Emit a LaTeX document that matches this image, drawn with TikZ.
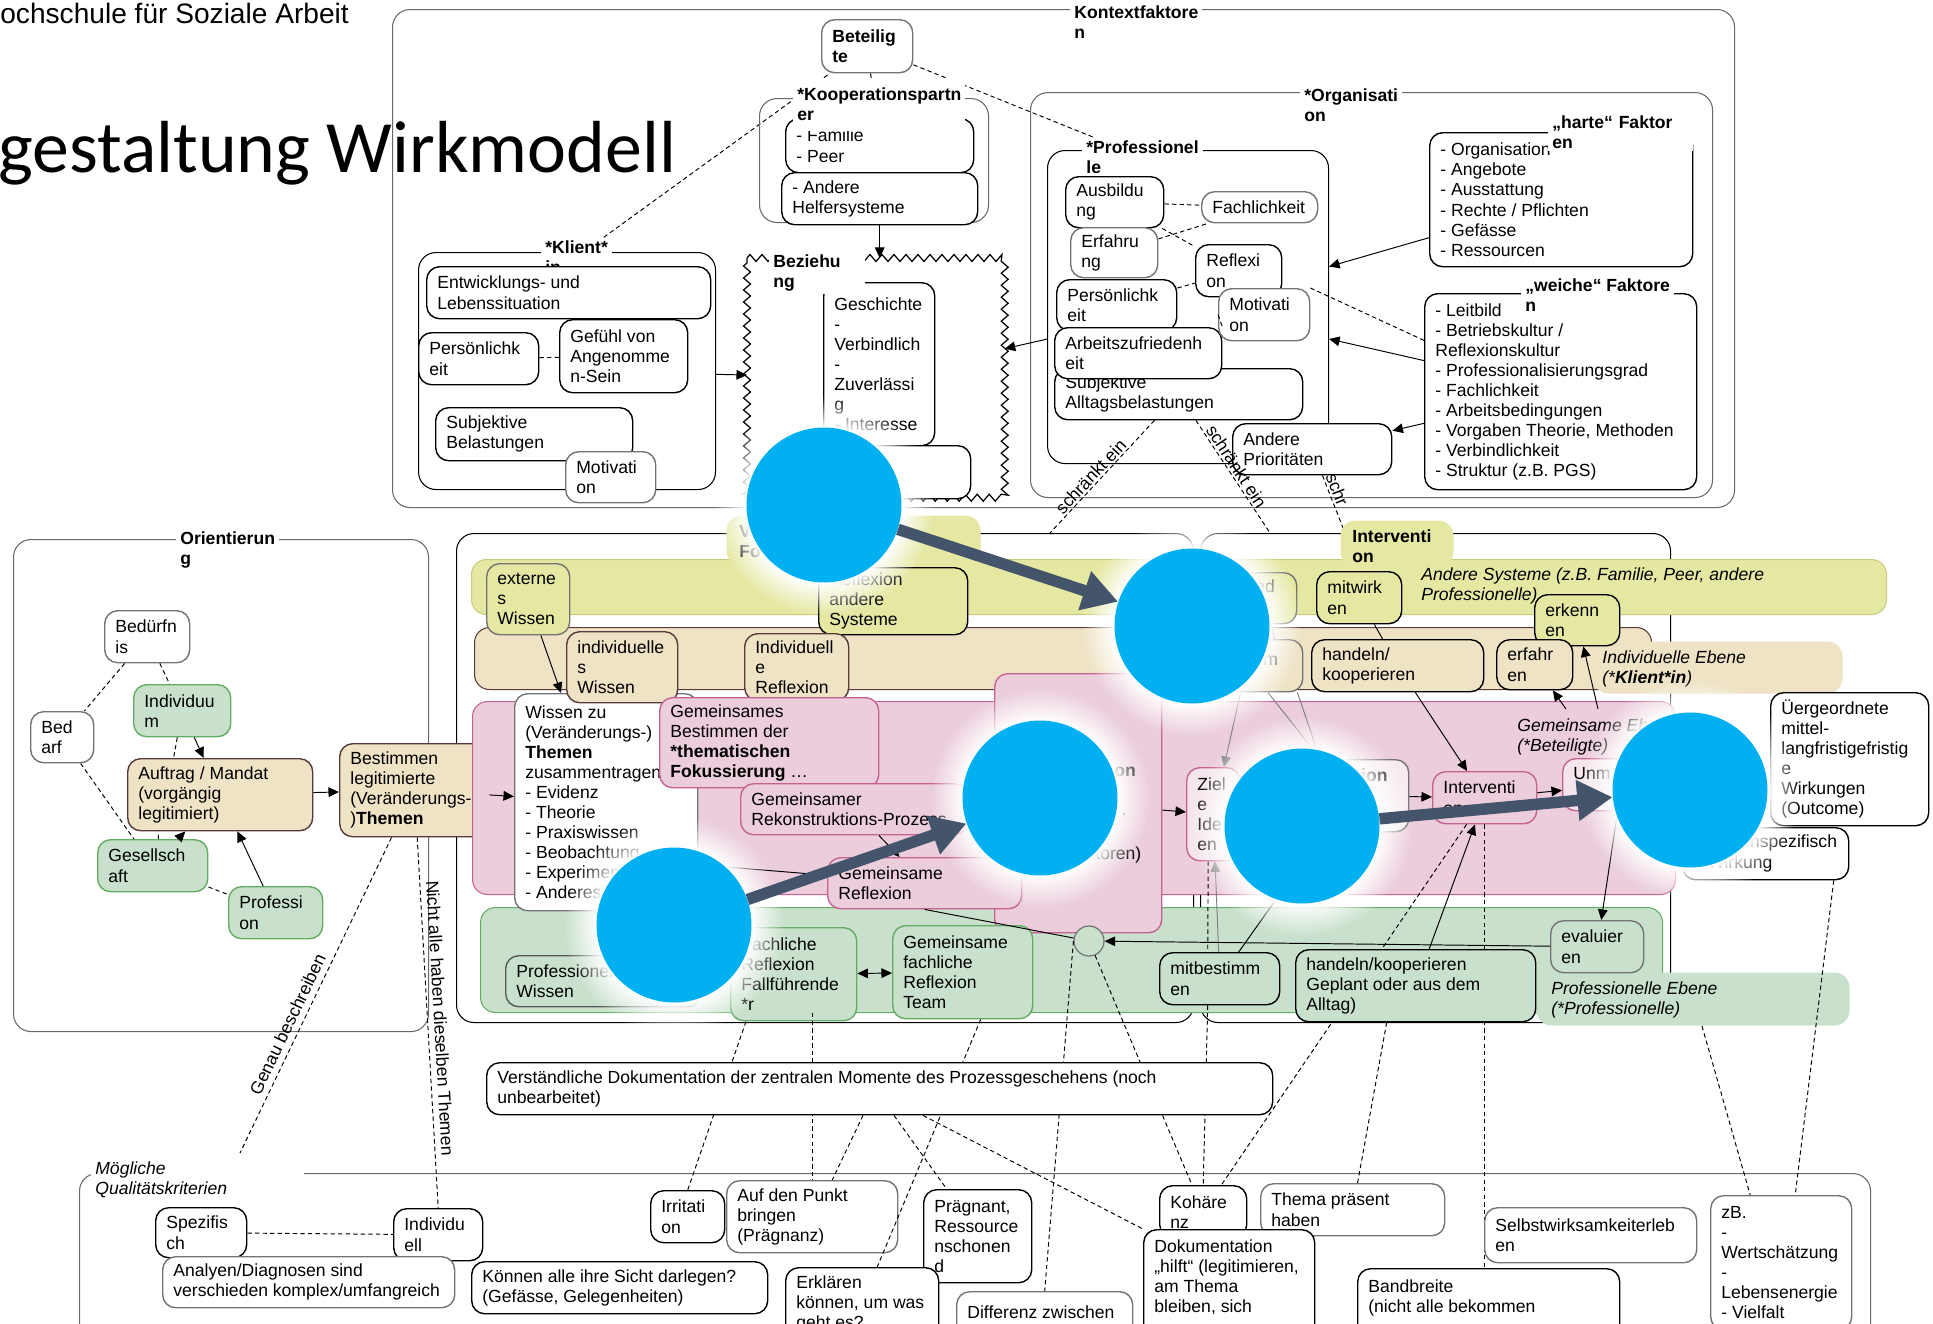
\documentclass[tikz,border=0pt]{standalone}
\usepackage{fontspec}
\setmainfont{Liberation Sans}
\newfontfamily\carlito{Carlito}
\usetikzlibrary{arrows.meta}
\usetikzlibrary{calc}
\usetikzlibrary{fadings}
\usetikzlibrary{decorations.pathmorphing}
\definecolor{ygfill}{RGB}{229,232,162}
\definecolor{ygline}{RGB}{200,204,120}
\definecolor{tanfill}{RGB}{239,227,197}
\definecolor{tanline}{RGB}{88,58,58}
\definecolor{rosefill}{RGB}{235,205,220}
\definecolor{roseline}{RGB}{198,98,146}
\definecolor{sagefill}{RGB}{201,225,204}
\definecolor{sageline}{RGB}{100,172,100}
\definecolor{blobblue}{RGB}{0,176,240}
\definecolor{slate}{RGB}{68,84,106}
\definecolor{framegray}{RGB}{105,105,105}
\newcommand\lbl{\fontsize{10}{11.4}\selectfont}
\pgfdeclareradialshading{glowshade}{\pgfpointorigin}{color(0bp)=(white); color(17.5bp)=(white); color(20bp)=(black!35); color(25bp)=(black); color(50bp)=(black)}
\pgfdeclarefading{glowfade}{\pgfuseshading{glowshade}}

\begin{document}
\begin{tikzpicture}[x=0.02cm,y=-0.02cm,
  every node/.style={font=\lbl},
  bx/.style 2 args={minimum width=#1*0.02cm, minimum height=#2*0.02cm},
  txt/.style={label={[anchor=west, align=left, inner xsep=0.22cm, inner ysep=0pt]west:{#1}}},
  wbox/.style={draw=black, fill=white, rounded corners=0.26cm, line width=0.8pt, inner sep=0pt, anchor=north west},
  gbox/.style={wbox, draw=black!55},
  ybox/.style={wbox, fill=ygfill},
  tbox/.style={wbox, fill=tanfill},
  pbox/.style={wbox, fill=rosefill, draw=roseline},
  sbox/.style={wbox, fill=sagefill, draw=sageline},
  outerbox/.style={draw=framegray, rounded corners=0.35cm, line width=0.6pt, inner sep=0pt, anchor=north west},
  band/.style={rounded corners=0.3cm, line width=0.6pt, inner sep=0pt, anchor=north west},
  ttl/.style={fill=white, font=\lbl\bfseries, align=left, inner xsep=0.08cm, inner ysep=0.06cm, anchor=west},
  note/.style={font=\lbl\itshape, align=left, inner sep=0pt, anchor=west},
  frag/.style={inner sep=0pt, anchor=west},
  arr/.style={-{Triangle[length=6pt,width=5.5pt]}, line width=0.55pt},
  arr2/.style={{Triangle[length=6pt,width=5.5pt]}-{Triangle[length=6pt,width=5.5pt]}, line width=0.55pt},
  garr/.style={arr, draw=black!50},
  dline/.style={line width=0.55pt, dash pattern=on 2.5pt off 1.8pt},
  zz/.style={decorate, decoration={zigzag, segment length=0.24cm, amplitude=0.07cm}, line width=0.7pt},
  blob/.style={circle, fill=blobblue, minimum size=3.1cm, inner sep=0pt},
  bigarr/.style={-{Triangle[length=20pt,width=22pt]}, line width=6.5pt, draw=slate}]

\useasboundingbox (0,0) rectangle (1933,1323);

\node[anchor=base west, inner sep=0pt, font=\fontsize{16}{18}\selectfont] (hsname) at (0,23) {ochschule für Soziale Arbeit};
\node[anchor=base west, inner sep=0pt, font=\carlito\fontsize{42}{48}\selectfont] (wmtitle) at (-2,172) {gestaltung Wirkmodell};

% Kontextfaktoren
\node[outerbox, bx={1342}{498}] (kontext) at (392,9) {};
\node[ttl] (kontextttl) at (1070,22) {Kontextfaktore\\n};

\node[outerbox, draw=black, bx={297}{237}] (klient) at (418,252) {};
\node[ttl] (klientttl) at (541,257) {*Klient*\\in};
\node[wbox, bx={284}{52}, txt={Entwicklungs- und\\Lebenssituation}] (kentw) at (426,266) {};
\node[wbox, bx={120}{52}, txt={Persönlichk\\eit}] (kpers) at (418,332) {};
\node[wbox, bx={128}{73}, txt={Gefühl von\\Angenomme\\n-Sein}] (kgef) at (559,319) {};
\node[wbox, bx={197}{53}, txt={Subjektive\\Belastungen}] (kbel) at (435,407) {};
\node[gbox, bx={90}{51}, txt={Motivati\\on}] (kmot) at (565,451) {};
\draw[dline] (kpers) -- (kgef);

\node[outerbox, bx={682}{405}] (orga) at (1030,92) {};
\node[ttl] (orgattl) at (1300,105) {*Organisati\\on};
\node[outerbox, draw=black, bx={281}{313}] (prof) at (1047,150) {};
\node[ttl] (profttl) at (1082,157) {*Professionel\\le};

\node[gbox, bx={91}{53}, txt={\textbf{Beteilig}\\\textbf{te}}] (beteiligte) at (821,19) {};
\draw[dline] (klientttl) -- (beteiligte);
\draw[dline] (beteiligte) -- (profttl);
\node[outerbox, bx={229}{124}] (koop) at (759,98) {};
\node[wbox, bx={188}{54}, txt={- Familie\\- Peer}] (koopfam) at (785,118) {};
\node[wbox, bx={196}{52}, txt={- Andere\\Helfersysteme}] (koopand) at (781,172) {};
\draw[line width=0.55pt] (beteiligte) -- (koopfam);
\node[ttl, inner ysep=0.2cm] (koopttl) at (793,104.5) {*Kooperationspartn\\er};

\node[fill=white, inner sep=0pt, anchor=north west, bx={257}{239}] (beziehung) at (747,258) {};
\draw[zz] (beziehung.north west) -- (beziehung.north east) -- (beziehung.south east) -- (beziehung.south west) -- cycle;
\node[wbox, bx={111}{163}, txt={Geschichte\\-\\Verbindlich\\-\\Zuverlässi\\g\\- Interesse}] (bgesch) at (823,282) {};
\node[wbox, bx={153}{53}] (bunten) at (817,445) {};
\node[ttl, text width=1.75cm] (bezttl) at (769,272.5) {Beziehu\\ng};
\draw[arr] (koopand) -- (koopand |- beziehung.north);
\draw[arr] (klient) -- (beziehung);

\node[wbox, bx={98}{51}, txt={Ausbildu\\ng}] (prausb) at (1065,176) {};
\node[gbox, bx={116}{31}, txt={Fachlichkeit}] (prfach) at (1201,191) {};
\node[gbox, bx={87}{50}, txt={Erfahru\\ng}] (prerf) at (1070,227) {};
\node[wbox, bx={120}{51}, txt={Persönlichk\\eit}] (prpers) at (1056,279) {};
\node[wbox, bx={248}{51}, txt={Subjektive\\Alltagsbelastungen}] (prsub) at (1054,368) {};
\node[wbox, bx={167}{51}, txt={Arbeitszufriedenh\\eit}] (prarb) at (1054,327) {};
\node[wbox, bx={86}{52}, txt={Reflexi\\on}] (prrefl) at (1195,244) {};
\node[gbox, bx={91}{52}, txt={Motivati\\on}] (prmot) at (1218,288) {};
\node[wbox, bx={159}{51}, txt={Andere\\Prioritäten}] (prand) at (1232,423) {};
\draw[dline] (prausb) -- (prfach);
\draw[dline] (prerf) -- (prfach);
\draw[dline] (prausb) -- (prrefl);
\draw[dline] (prpers) -- (prrefl);
\draw[dline] (prmot.west) -- (prarb.north east);

\node[wbox, bx={263}{134}, txt={- Organisation\\- Angebote\\- Ausstattung\\- Rechte / Pflichten\\- Gefässe\\- Ressourcen}] (harte) at (1429,132) {};
\node[ttl, text width=2.74cm] (hartettl) at (1548,132) {„harte“ Faktor\\en};
\node[wbox, bx={272}{196}, txt={- Leitbild\\- Betriebskultur /\\Reflexionskultur\\- Professionalisierungsgrad\\- Fachlichkeit\\- Arbeitsbedingungen\\- Vorgaben Theorie, Methoden\\- Verbindlichkeit\\- Struktur (z.B. PGS)}] (weiche) at (1424,293) {};
\node[ttl] (weichettl) at (1521,295) {„weiche“ Faktore\\n};
\draw[arr] (harte) -- (prof);
\draw[arr] (weiche) -- (prof);
\draw[arr] (weiche) -- (prand);
\draw[arr] (prof) -- (beziehung);
\draw[dline] (prmot.north east) -- ($(weiche.north west)!0.24!(weiche.south west)$);

% Intervention
\node[outerbox, draw=black, bx={737}{489}] (intleft) at (456,533) {};
\node[outerbox, draw=black, bx={470}{489}] (intright) at (1200,533) {};
\coordinate (cse1) at (1050,533);
\coordinate (cse2) at (1270,533);
\coordinate (cse3) at (1345,533);
\draw[dline] (prsub) -- node[sloped, above, pos=0.55, inner sep=1pt] {schränkt ein} (cse1);
\draw[dline] (prsub) -- node[sloped, above, pos=0.45, inner sep=1pt] {schränkt ein} (cse2);
\draw[dline] (prand) -- node[sloped, above, pos=0.3, inner sep=1pt] {schr} (cse3);

% Orientierung
\node[outerbox, bx={415}{492}] (orient) at (13,539) {};
\node[ttl] (orientttl) at (176,549.5) {Orientierun\\g};
\node[gbox, bx={85}{52}, txt={Bedürfn\\is}] (obed) at (104,610) {};
\node[gbox, bx={63}{51}, txt={Bed\\arf}] (obedarf) at (30,711) {};
\node[sbox, bx={97}{52}, txt={Individuu\\m}] (oind) at (133,684) {};
\node[tbox, draw=tanline, bx={185}{72}, txt={Auftrag / Mandat\\(vorgängig\\legitimiert)}] (oauf) at (127,758) {};
\node[sbox, bx={110}{52}, txt={Gesellsch\\aft}] (oges) at (97,839) {};
\node[sbox, bx={94}{52}, txt={Professi\\on}] (oprof) at (228,886) {};
\node[tbox, draw=tanline, bx={149}{93}, txt={Bestimmen\\legitimierte\\(Veränderungs-\\)\textbf{Themen}}] (obest) at (339,743) {};
\draw[dline] (obed) -- (obedarf);
\draw[dline] (obed) -- (oind);
\draw[dline] ($(oind.south west)!0.45!(oind.south east)$) -- ($(oauf.north west)!0.25!(oauf.north east)$);
\draw[arr] (oind) -- (oauf);
\draw[dline] (obedarf) -- (oges);
\draw[dline] ($(oges.north west)!0.55!(oges.north east)$) -- ($(oauf.south west)!0.17!(oauf.south east)$);
\draw[arr] (oges) -- (oauf);
\draw[dline] (oges) -- (oprof);
\draw[arr] (oprof) -- (oauf);
\draw[arr] (oauf) -- (obest);

% Ebenen
\node[band, fill=ygfill, draw=ygline, bx={1415}{55}] (yband) at (471,559) {};
\node[band, fill=ygfill, bx={254}{50}] (vtab) at (726,515) {};
\node[frag, font=\lbl\bfseries, align=left] (vtabtxt) at (739,541.5) {V\\Fo};
\node[band, fill=ygfill, bx={113}{46}] (itab) at (1340,520) {};
\node[ttl, fill=none] (itabtxt) at (1348,546.5) {Interventi\\on};
\node[band, fill=tanfill, draw=tanline, bx={1177}{62}] (tband) at (474,627) {};
\node[band, fill=tanfill, bx={249}{52}] (ttab) at (1593,641) {};
\node[note] (ttabtxt) at (1602,668.5) {Individuelle Ebene\\(*\textbf{Klient*in})};
\node[band, fill=rosefill, draw=roseline, bx={1203}{193}] (pband) at (472,701) {};
\node[band, fill=sagefill, draw=sageline, bx={1182}{105}] (gband) at (480,907) {};
\node[band, fill=sagefill, bx={313}{53}] (gtab) at (1536,972) {};
\node[note] (gtabtxt) at (1551,999.5) {Professionelle Ebene\\(*Professionelle)};
\node[note] (ysystxt) at (1421,586) {Andere Systeme (z.B. Familie, Peer, andere\\Professionelle)};
\node[note] (gemtxt) at (1517,736.5) {Gemeinsame Ebene\\(*Beteiligte)};

\node[ybox, draw=black!55, bx={83}{71}, txt={externe\\s\\Wissen}] (yext) at (486,563) {};
\node[ybox, bx={149}{67}, txt={Reflexion\\andere\\Systeme}] (yrefl) at (818,567) {};
\node[ybox, draw=black!55, bx={116}{51}] (yed) at (1180,572) {};
\node[frag] (yedtxt) at (1255,586) {ed};
\node[ybox, bx={85}{52}, txt={mitwirk\\en}] (ymit) at (1316,571) {};
\node[ybox, bx={85}{51}, txt={erkenn\\en}] (yerk) at (1534,594) {};

\node[wbox, draw=black!55, bx={183}{217}, txt={Wissen zu\\(Veränderungs-)\\\textbf{Themen}\\zusammentragen\\- Evidenz\\- Theorie\\- Praxiswissen\\- Beobachtung\\- Experimente\\- Anderes}] (wissen) at (514,693) {};
\node[tbox, draw=tanline, bx={111}{71}, txt={individuelle\\s\\Wissen}] (tind) at (566,631) {};
\node[tbox, draw=tanline, bx={104}{67}, txt={Individuell\\e\\Reflexion}] (trefl) at (744,633) {};
\node[tbox, draw=black!55, bx={112}{52}] (tm) at (1190,639) {};
\node[frag] (tmtxt) at (1263,661) {m};
\node[tbox, bx={172}{52}, txt={handeln/\\kooperieren}] (thand) at (1311,639) {};
\node[tbox, bx={76}{50}, txt={erfahr\\en}] (terf) at (1496,639) {};

\node[pbox, bx={219}{90}, txt={Gemeinsames\\Bestimmen der\\\textbf{*thematischen}\\\textbf{Fokussierung} …}] (pgem) at (659,697) {};
\node[pbox, bx={226}{51}, txt={Gemeinsamer\\Rekonstruktions-Prozess}] (prek) at (740,783) {};
\node[pbox, bx={167}{259}] (pbig) at (994,673) {};
\node[frag, font=\lbl\bfseries] (pbigon) at (1114,772) {on};
\node[frag] (pbigdot) at (1121,815) {.};
\node[frag] (pbigtoren) at (1095,855) {toren)};
\node[pbox, bx={194}{51}, txt={Gemeinsame\\Reflexion}] (prefl) at (827,857) {};
\node[pbox, fill=rosefill!50, bx={53}{93}, txt={Ziel\\e\\Ide\\en}] (pziel) at (1186,767) {};
\node[wbox, fill=rosefill!40, draw=black!55, bx={118}{72}] (ption) at (1290,759) {};
\node[frag, font=\lbl\bfseries] (ptiontxt) at (1355,775) {tion};
\node[pbox, bx={104}{52}, txt={Interventi\\on}] (pint) at (1432,771) {};
\node[pbox, fill=rosefill!50, bx={118}{52}] (punm) at (1562,758) {};
\node[frag] (punmtxt) at (1573,774) {Unm};
\node[wbox, bx={158}{133}, txt={Üergeordnete\\mittel-\\langfristigefristig\\e\\Wirkungen\\(Outcome)}] (uerg) at (1770,692) {};
\node[wbox, bx={166}{52}] (wspez) at (1682,827) {};
\node[frag] (wspeztxt) at (1740,843) {enspezifisch};
\node[frag] (wspeztxtb) at (1693,864) {e Wirkung};

\node[sbox, draw=black!65, bx={195}{51}, txt={Professionelles\\Wissen}] (gprof) at (505,955) {};
\node[sbox, bx={126}{93}, txt={Fachliche\\Reflexion\\Fallführende\\*r}] (gfach) at (730,927) {};
\node[sbox, bx={140}{93}, txt={Gemeinsame\\fachliche\\Reflexion\\Team}] (gteam) at (892,925) {};
\node[circle, draw=black!55, fill=sagefill, minimum size=0.6cm, inner sep=0pt, line width=0.7pt] (gcirc) at (1089,941) {};
\node[sbox, draw=black, bx={120}{52}, txt={mitbestimm\\en}] (gmit) at (1159,952) {};
\node[sbox, draw=black!55, bx={93}{52}, txt={evaluier\\en}] (geval) at (1550,920) {};

% Qualitaetskriterien
\node[outerbox, bx={1791}{260}] (qual) at (79,1173) {};
\node[ttl, font=\lbl\itshape, text width=4.1cm] (qualttl) at (91,1179.5) {Mögliche\\Qualitätskriterien};
\node[wbox, bx={91}{50}, txt={Spezifis\\ch}] (sspez) at (155,1207) {};
\node[wbox, bx={89}{52}, txt={Individu\\ell}] (sindiv) at (393,1208) {};
\draw[dline] (sspez) -- (sindiv);
\node[gbox, bx={292}{51}, txt={Analyen/Diagnosen sind\\verschieden komplex/umfangreich}] (sanal) at (162,1256) {};
\node[wbox, bx={296}{52}, txt={Können alle ihre Sicht darlegen?\\(Gefässe, Gelegenheiten)}] (skonn) at (471,1261) {};
\node[wbox, bx={74}{52}, txt={Irritati\\on}] (sirr) at (650,1190) {};
\node[gbox, bx={171}{72}, txt={Auf den Punkt\\bringen\\(Prägnanz)}] (spunkt) at (726,1180) {};
\node[wbox, bx={108}{93}, txt={Prägnant,\\Ressource\\nschonen\\d}] (sprae) at (923,1189) {};
\node[wbox, bx={153}{72}, txt={Erklären\\können, um was\\geht es?}] (serk) at (785,1267) {};
\node[gbox, bx={176}{60}, txt={Differenz zwischen\\\mbox{}}] (sdiff) at (956,1291) {};
\node[wbox, bx={87}{52}, txt={Kohäre\\nz}] (skoh) at (1159,1185) {};
\node[gbox, bx={184}{52}, txt={Thema präsent\\haben}] (sthema) at (1260,1183) {};
\node[wbox, bx={171}{113}, txt={Dokumentation\\„hilft“ (legitimieren,\\am Thema\\bleiben, sich\\\mbox{}}] (sdok) at (1143,1229) {};
\node[wbox, bx={262}{74}, txt={Bandbreite\\(nicht alle bekommen\\\mbox{}}] (sband) at (1357,1268) {};
\node[gbox, bx={141}{134}, txt={zB.\\-\\Wertschätzung\\-\\Lebensenergie\\- Vielfalt}] (szb) at (1710,1195) {};

\draw[dline] (pint) -- (skoh);
\draw[dline] (pint.south) -- (pint.south |- sband.north);
\node[sbox, draw=black, bx={240}{72}, txt={handeln/kooperieren\\Geplant oder aus dem\\Alltag)}] (ghand) at (1295,949) {};
\node[gbox, bx={212}{55}, txt={Selbstwirksamkeiterleb\\en}] (sselb) at (1484,1207) {};

% Verbindungen
\coordinate (cw1) at (726,867);
\coordinate (ce1) at (1566,709);
\coordinate (ce2) at (1598,709);
\coordinate (cgenau) at (240,1153);
\draw[arr] (obest) -- (wissen);
\draw[arr] (yext) -- ($(wissen.north west)+(47,0)$);
\draw[line width=0.55pt] (ymit) -- (thand);
\draw[line width=0.55pt] ($(yed.south)+(32,0)$) -- ($(tm.north)+(28,0)$);
\draw[garr] (tm) -- (pziel);
\draw[garr] (tm) -- (ption);
\draw[garr] ($(tm.south east)+(-6,0)$) -- ($(ption.north west)+(30,0)$);
\draw[arr] (thand) -- (pint);
\draw[arr] (pbig) -- (pziel);
\draw[arr] (ption) -- (pint);
\draw[arr] (pint) -- (punm);
\draw[arr] (prek) -- (prefl);
\draw[line width=0.55pt] (cw1) -- (prefl);
\draw[line width=0.55pt] (prefl.south) -- (gcirc);
\draw[arr2] (gfach) -- (gteam);
\draw[garr] (gmit) -- (pziel);
\draw[dline] ($(pziel.south)+(-5,0)$) -- ($(gmit.north)+(-12,0)$);
\draw[line width=0.55pt] (gmit) -- (ption);
\draw[arr] (ghand) -- (pint);
\draw[arr] (geval) -- (gcirc);
\draw[arr] (punm) -- (geval);
\draw[arr] (ce1) -- (terf);
\draw[arr] (ce2) -- (yerk);
\draw[dline] ($(gmit.south)+(-12,0)$) -- (skoh.north);
\draw[dline] ($(gfach.south west)+(16,0)$) -- (sirr.north);
\draw[dline] (gband.south -| spunkt.north) -- (spunkt.north);
\draw[dline] ($(gteam.south)+(18,0)$) -- ($(serk.north)+(15,0)$);
\draw[dline] (gcirc.west) -- (sdiff.north);
\draw[dline] (gcirc) -- (skoh);
\draw[dline] ($(ghand.south)+(-29,0)$) -- (sthema);
\draw[dline] ($(wspez.south)+(68,0)$) -- ($(szb.north)+(14,0)$);
\draw[dline] ($(gtab.south west)+(166,0)$) -- ($(szb.north)+(-31,0)$);
\draw[dline] (obest) -- node[sloped, above, pos=0.61] {Genau beschreiben} (cgenau);
\draw[dline] ($(obest.south west)!0.52!(obest.south east)$) -- node[sloped, above, pos=0.49] {Nicht alle haben dieselben Themen} (sindiv.north);

\node[wbox, bx={786}{52}, txt={Verständliche Dokumentation der zentralen Momente des Prozessgeschehens (noch\\unbearbeitet)}] (sverst) at (486,1062) {};
\draw[dline] ($(sverst.south west)+(377,0)$) -- ($(spunkt.north)+(20,0)$);
\draw[dline] ($(sverst.south west)+(408,0)$) -- ($(sprae.north)+(-31,0)$);
\draw[dline] ($(sverst.south west)+(437,0)$) -- (sdok.north west);

% Kreise
\coordinate (cA) at (824,505);
\coordinate (cB) at (1192,626);
\coordinate (cC) at (1040,798);
\coordinate (cD) at (674,925);
\coordinate (cE) at (1302,826);
\coordinate (cF) at (1690,790);
\foreach \c in {cA,cB,cC,cD,cE,cF}
  \fill[white, path fading=glowfade] (\c) circle (2.2cm);
\node[blob] (blobA) at (cA) {};
\node[blob] (blobB) at (cB) {};
\node[blob] (blobC) at (cC) {};
\node[blob] (blobD) at (cD) {};
\node[blob] (blobE) at (cE) {};
\node[blob] (blobF) at (cF) {};
\draw[bigarr] (blobA) -- (blobB);
\draw[bigarr] (blobD) -- (blobC);
\draw[bigarr] (blobE) -- (blobF);
\end{tikzpicture}
\end{document}
